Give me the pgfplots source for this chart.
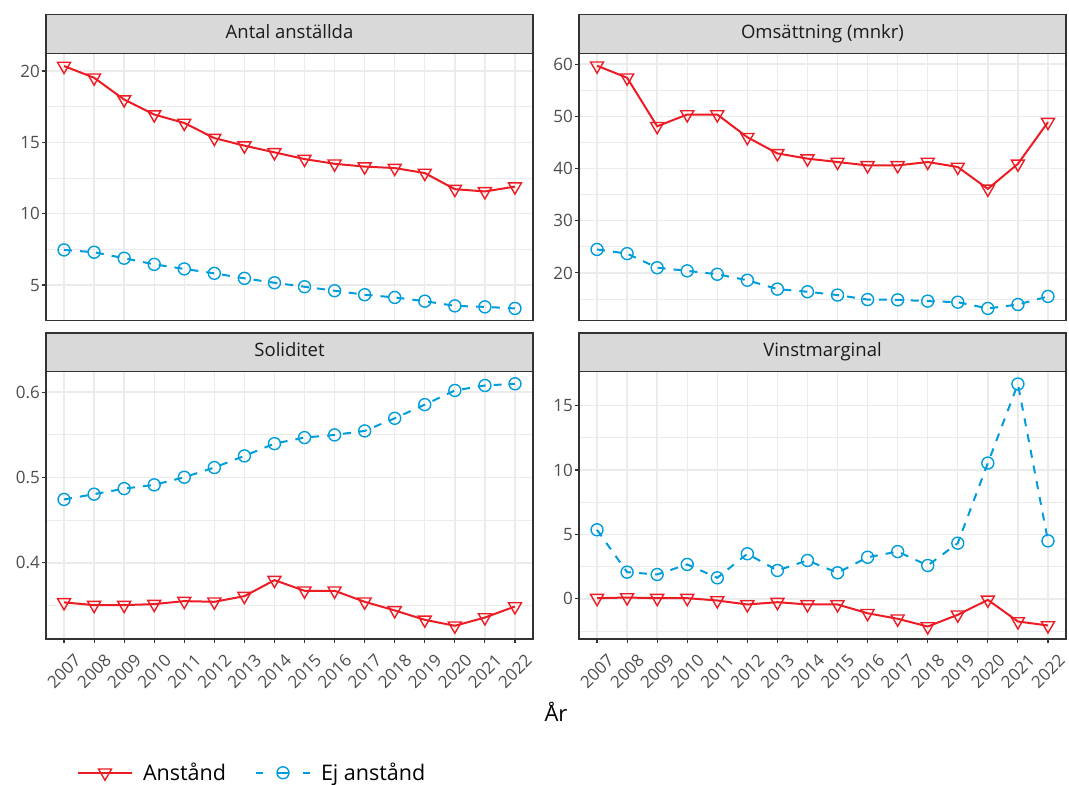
\documentclass[border=0pt]{standalone}
\usepackage{pgfplots}
\pgfplotsset{compat=1.18}
\usepackage{fontspec}
\setmainfont{Open Sans}
\definecolor{cred}{RGB}{237,28,36}
\definecolor{cblue}{RGB}{0,157,220}
\definecolor{g20}{HTML}{333333}
\definecolor{g30}{HTML}{4D4D4D}
\definecolor{g85}{HTML}{D9D9D9}
\definecolor{g92}{HTML}{EBEBEB}
\definecolor{g10}{HTML}{1A1A1A}
\pgfplotsset{
 panel/.style={
  scale only axis, width=487pt, height=267.5pt,
  xmin=2006.4, xmax=2022.6,
  xtick={2007,2008,...,2022},
  grid=both,
  major grid style={draw=g92, line width=1.4pt},
  minor grid style={draw=g92, line width=0.7pt},
  minor tick length=0pt,
  axis line style={draw=g20, line width=1.3pt},
  tick align=outside, major tick length=4pt,
  tick style={draw=g20, line width=1.1pt},
  xtick pos=left, ytick pos=left,
  tick label style={font=\fontsize{17}{20}\selectfont, text=g30},
  yticklabel style={anchor=east, inner sep=0pt, xshift=-2pt},
  every axis title/.style={at={(0.5,1)}, anchor=south, draw=g20, fill=g85, line width=1.3pt, minimum width=487pt, minimum height=38.5pt, inner sep=0pt, outer sep=0pt, text=g10, font=\fontsize{18.5}{22}\selectfont, text height=13pt, text depth=4.5pt},
  /pgf/number format/assume math mode=true,
 },
 toppanel/.style={xticklabels={}, xtick style={draw=none}},
 botpanel/.style={xticklabels={2007,2008,2009,2010,2011,2012,2013,2014,2015,2016,2017,2018,2019,2020,2021,2022}, xticklabel style={yshift=-28.5pt, rotate=45, anchor=center, inner sep=0pt}},
 redp/.style={draw=cred, line width=2pt, mark=triangle, mark size=7.5pt, mark options={solid, rotate=180, line width=1.4pt, draw=cred, fill=none}},
 bluep/.style={draw=cblue, line width=2pt, dash pattern=on 8pt off 8pt, mark=o, mark size=6pt, mark options={solid, line width=1.4pt, draw=cblue}},
}
\begin{document}
\begin{tikzpicture}
\path[use as bounding box] (0pt,0pt) rectangle (1069pt,-785pt);
% Top-left
\begin{axis}[panel, toppanel, at={(46pt,-320.7pt)}, anchor=south west,
  ymin=2.5, ymax=21.25, ytick={5,10,15,20}, yticklabels={5,10,15,20},
  minor ytick={7.5,12.5,17.5}, title={Antal anställda}]
\addplot[redp] coordinates {(2007,20.35)(2008,19.53)(2009,18.0)(2010,16.95)(2011,16.36)(2012,15.3)(2013,14.77)(2014,14.3)(2015,13.83)(2016,13.5)(2017,13.3)(2018,13.2)(2019,12.85)(2020,11.72)(2021,11.56)(2022,11.9)};
\addplot[bluep] coordinates {(2007,7.46)(2008,7.3)(2009,6.88)(2010,6.45)(2011,6.13)(2012,5.82)(2013,5.47)(2014,5.16)(2015,4.88)(2016,4.6)(2017,4.32)(2018,4.13)(2019,3.87)(2020,3.54)(2021,3.47)(2022,3.36)};
\end{axis}
% Top-right
\begin{axis}[panel, toppanel, at={(579pt,-320.7pt)}, anchor=south west,
  ymin=10.85, ymax=62.1, ytick={20,30,40,50,60}, yticklabels={20,30,40,50,60},
  minor ytick={15,25,35,45,55}, title={Omsättning (mnkr)}]
\addplot[redp] coordinates {(2007,59.7)(2008,57.4)(2009,48.1)(2010,50.35)(2011,50.35)(2012,46.0)(2013,42.9)(2014,41.9)(2015,41.25)(2016,40.6)(2017,40.6)(2018,41.25)(2019,40.3)(2020,36.1)(2021,40.9)(2022,48.9)};
\addplot[bluep] coordinates {(2007,24.5)(2008,23.7)(2009,21.0)(2010,20.4)(2011,19.75)(2012,18.6)(2013,16.9)(2014,16.4)(2015,15.76)(2016,14.9)(2017,14.85)(2018,14.6)(2019,14.4)(2020,13.2)(2021,13.95)(2022,15.5)};
\end{axis}
% Bottom-left
\begin{axis}[panel, botpanel, at={(46pt,-639pt)}, anchor=south west,
  ymin=0.3108, ymax=0.6242, ytick={0.4,0.5,0.6}, yticklabels={0.4,0.5,0.6},
  minor ytick={0.35,0.45,0.55}, title={Soliditet},
  legend columns=2, legend cell align=left,
  legend style={at={(0.0637,-0.5)}, anchor=west, draw=none, fill=none, inner sep=0pt, outer sep=0pt,
    font=\fontsize{21.5}{25}\selectfont, text=black, nodes={inner sep=0pt},
    /tikz/every odd column/.append style={column sep=10pt},
    /tikz/every even column/.append style={column sep=29pt}}]
\addplot[redp, legend image code/.code={\draw[mark repeat=2, mark phase=2] plot coordinates {(0pt,0pt)(27pt,0pt)(54pt,0pt)};}] coordinates {(2007,0.3537)(2008,0.3505)(2009,0.3505)(2010,0.3517)(2011,0.3552)(2012,0.3544)(2013,0.361)(2014,0.3798)(2015,0.3673)(2016,0.3673)(2017,0.3544)(2018,0.3443)(2019,0.3333)(2020,0.3263)(2021,0.336)(2022,0.3489)};
\addlegendentry{Anstånd}
\addplot[bluep, legend image code/.code={\draw[dash pattern=on 7pt off 15pt on 10pt off 15pt on 7pt, mark repeat=2, mark phase=2] plot coordinates {(0pt,0pt)(27pt,0pt)(54pt,0pt)};}] coordinates {(2007,0.4743)(2008,0.4805)(2009,0.487)(2010,0.4914)(2011,0.5003)(2012,0.5117)(2013,0.5253)(2014,0.5397)(2015,0.5468)(2016,0.5499)(2017,0.5546)(2018,0.5694)(2019,0.5854)(2020,0.602)(2021,0.6078)(2022,0.6098)};
\addlegendentry{Ej anstånd}
\end{axis}
% Bottom-right
\begin{axis}[panel, botpanel, at={(579pt,-639pt)}, anchor=south west,
  ymin=-3.12, ymax=17.65, ytick={0,5,10,15}, yticklabels={0,5,10,15},
  minor ytick={-2.5,2.5,7.5,12.5}, title={Vinstmarginal}]
\addplot[redp] coordinates {(2007,0.05)(2008,0.1)(2009,0.05)(2010,0.05)(2011,-0.13)(2012,-0.44)(2013,-0.26)(2014,-0.44)(2015,-0.44)(2016,-1.12)(2017,-1.55)(2018,-2.15)(2019,-1.24)(2020,-0.08)(2021,-1.76)(2022,-2.07)};
\addplot[bluep] coordinates {(2007,5.36)(2008,2.07)(2009,1.89)(2010,2.67)(2011,1.63)(2012,3.5)(2013,2.2)(2014,2.98)(2015,2.02)(2016,3.23)(2017,3.67)(2018,2.59)(2019,4.32)(2020,10.54)(2021,16.68)(2022,4.5)};
\end{axis}
\node[font=\fontsize{22}{26}\selectfont, text=black] at (556pt,-712pt) {År};
\end{tikzpicture}
\end{document}
